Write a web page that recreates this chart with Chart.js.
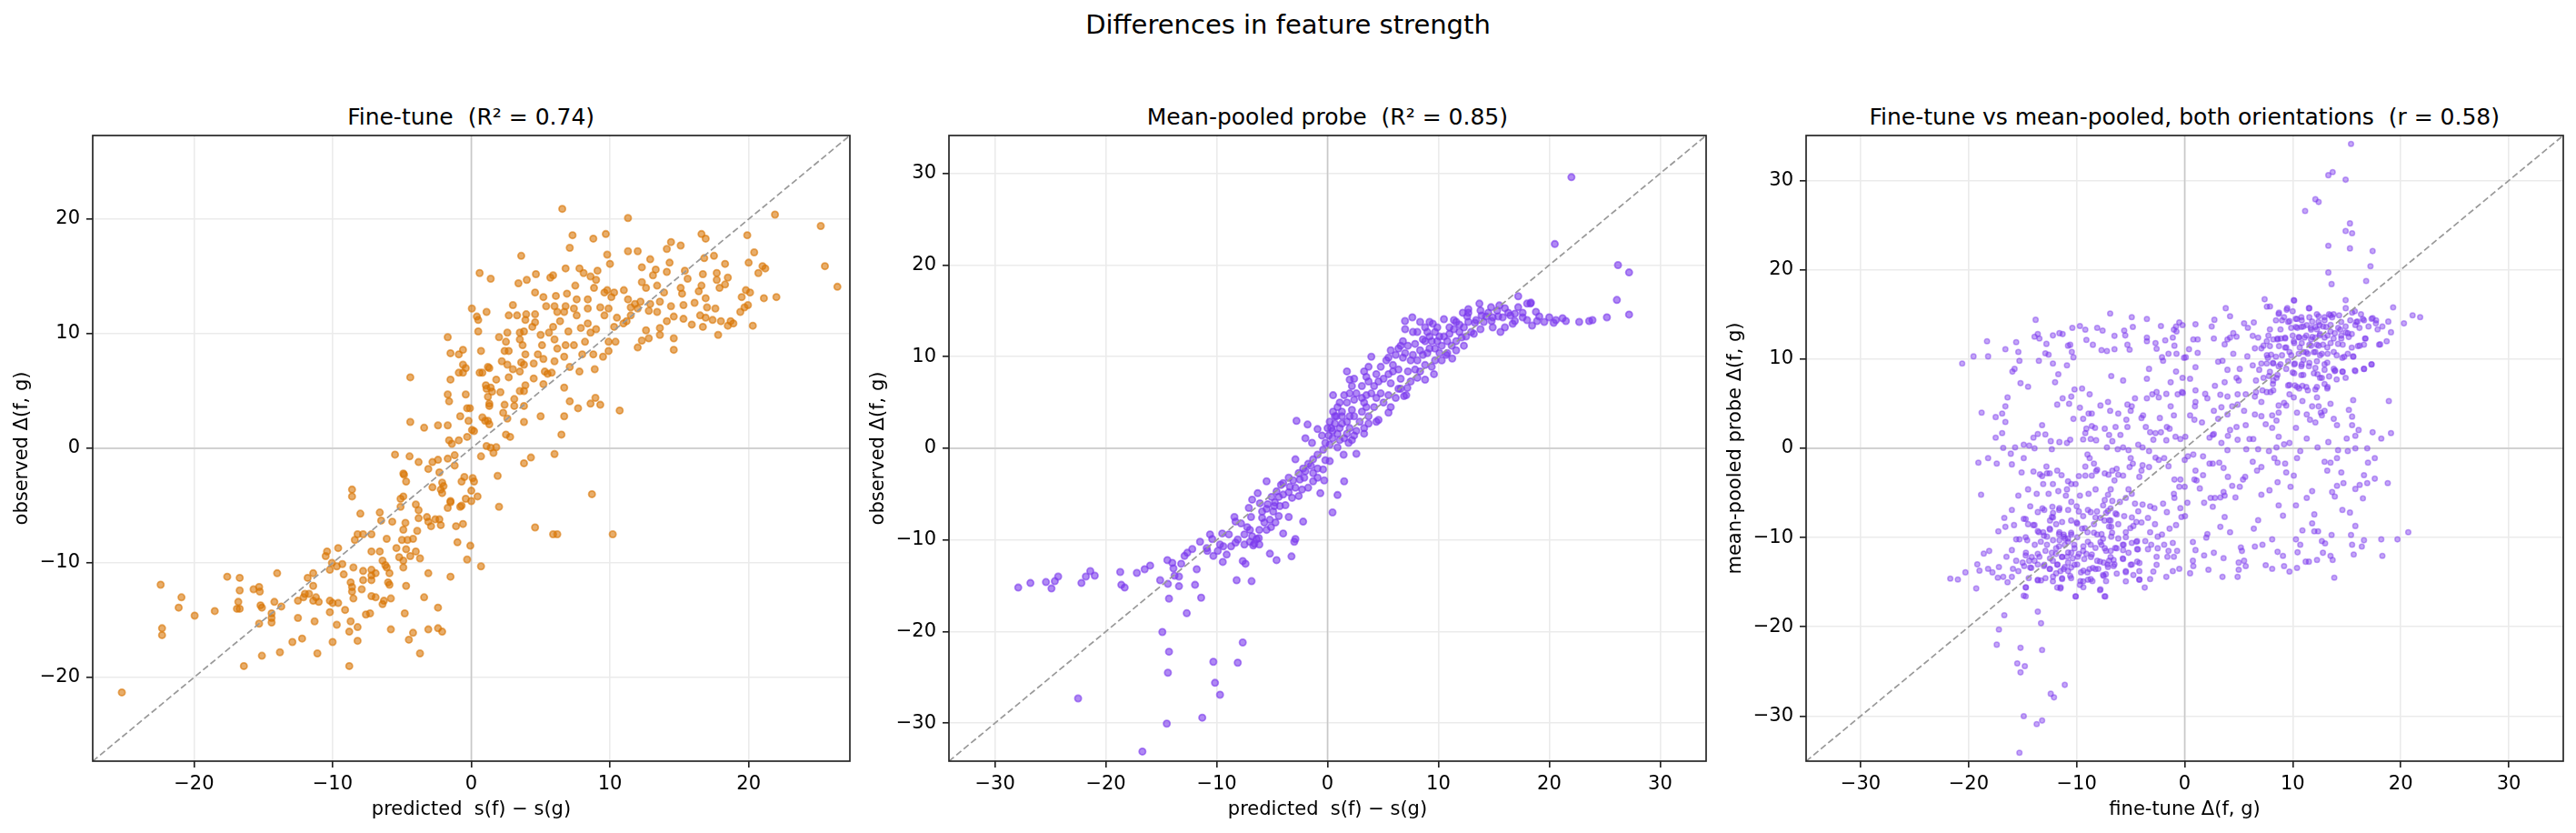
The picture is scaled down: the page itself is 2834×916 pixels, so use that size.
<!DOCTYPE html>
<html>
<head>
<meta charset="utf-8">
<script src="https://cdn.jsdelivr.net/npm/chart.js@4.4.1/dist/chart.umd.min.js"></script>
<style>
  html, body { margin: 0; padding: 0; background: #fff; overflow: hidden; width: 2834px; height: 916px; }
  .wrap { position: relative; width: 2834px; height: 916px; font-family: 'DejaVu Sans', sans-serif; color: #000; }
  .sup { position: absolute; left: 0; width: 2834px; top: 12.8px; font-size: 29px; line-height: 29px; text-align: center; white-space: pre; }
  .ttl { position: absolute; top: 116.2px; width: 833px; font-size: 25px; line-height: 25px; text-align: center; white-space: pre; }
  canvas { position: absolute; top: 0; }
</style>
</head>
<body>
<div class="wrap">
  <div class="sup">Differences in feature strength</div>
  <div class="ttl" id="t0"></div>
  <div class="ttl" id="t1"></div>
  <div class="ttl" id="t2"></div>
  <canvas id="c0" width="943" height="916"></canvas>
  <canvas id="c1" width="943" height="916"></canvas>
  <canvas id="c2" width="943" height="916"></canvas>
</div>
<script>
const titles = ['Fine-tune  (R\u00b2 = 0.74)', 'Mean-pooled probe  (R\u00b2 = 0.85)', 'Fine-tune vs mean-pooled, both orientations  (r = 0.58)'];
const xLabels = ['predicted  s(f) \u2212 s(g)', 'predicted  s(f) \u2212 s(g)', 'fine-tune \u0394(f, g)'];
const yLabels = ['observed \u0394(f, g)', 'observed \u0394(f, g)', 'mean-pooled probe \u0394(f, g)'];
const limits = [27.3, 34.15, 35.05];
const ticksFine = [-20, -10, 0, 10, 20];
const ticksWide = [-30, -20, -10, 0, 10, 20, 30];

// fine-tune: [predicted, observed]
const fineTune = [
[-25.2,-21.3],[-22.4,-11.9],[-22.3,-15.7],[-22.3,-16.3],[-20.9,-13.0],[-21.1,-13.9],[-19.95,-14.6],[-18.5,-14.2],[-17.6,-11.2],[-16.7,-11.3],
[-16.7,-12.4],[-16.8,-13.4],[-16.9,-14.0],[-16.7,-14.0],[-16.4,-19.0],[-15.7,-12.3],[-15.3,-12.1],[-15.25,-12.5],[-15.2,-13.7],[-15.1,-13.9],
[-15.3,-15.3],[-15.1,-18.1],[-14.4,-14.4],[-14.4,-14.8],[-14.4,-15.2],[-14.2,-13.4],[-14.0,-10.9],[-13.7,-13.8],[-13.8,-17.8],[-12.9,-16.9],
[-12.5,-13.3],[-12.5,-14.8],[-12.2,-16.6],[-12.1,-13.0],[-12.0,-12.7],[-11.7,-12.7],[-11.8,-11.3],[-11.4,-10.9],[-11.4,-12.0],[-11.4,-13.3],
[-11.2,-13.0],[-11.0,-13.4],[-11.3,-15.1],[-11.1,-17.9],[-10.4,-9.0],[-10.5,-9.4],[-10.2,-10.6],[-10.05,-10.0],[-10.2,-13.3],[-10.0,-13.5],
[-10.2,-14.3],[-9.6,-13.5],[-9.7,-15.4],[-10.0,-16.9],[-9.6,-8.7],[-9.3,-10.1],[-9.7,-10.3],[-9.2,-11.0],[-9.1,-14.1],[-8.8,-16.0],
[-8.7,-15.1],[-8.8,-19.0],[-8.7,-11.7],[-8.6,-12.1],[-8.6,-12.5],[-8.5,-13.1],[-8.5,-10.4],[-8.2,-15.6],[-8.2,-16.8],[-8.6,-3.6],
[-8.6,-4.2],[-8.0,-5.7],[-8.4,-8.0],[-8.2,-7.5],[-7.8,-7.5],[-7.2,-7.5],[-7.8,-11.5],[-7.8,-10.7],[-7.9,-12.3],[-7.6,-14.5],
[-7.3,-14.4],[-7.2,-9.0],[-7.2,-10.6],[-7.2,-11.1],[-7.2,-11.5],[-6.9,-10.9],[-7.2,-12.9],[-6.9,-13.0],[-6.6,-9.0],[-6.6,-5.6],
[-6.5,-6.3],[-6.4,-9.8],[-6.2,-10.2],[-6.1,-10.4],[-6.1,-7.9],[-5.9,-10.9],[-6.0,-11.7],[-5.9,-11.9],[-6.3,-13.3],[-6.4,-13.6],
[-5.8,-13.1],[-5.8,-15.8],[-5.7,-6.4],[-5.5,-0.55],[-5.4,-8.7],[-5.2,-9.5],[-5.1,-4.4],[-5.1,-5.1],[-4.9,-2.2],[-4.85,-2.3],
[-4.7,-2.9],[-4.9,-4.2],[-4.75,-6.5],[-4.9,-7.1],[-5.0,-8.0],[-4.9,-10.4],[-4.9,-9.8],[-4.7,-12.0],[-4.8,-14.4],[-4.6,-8.0],
[-4.7,-8.8],[-4.4,-9.4],[-4.2,-7.9],[-4.5,-16.7],[-4.2,-16.1],[-4.45,-0.7],[-4.4,2.3],[-4.0,-4.9],[-3.8,-5.4],[-3.8,-1.2],
[-3.8,-6.1],[-4.0,-9.0],[-3.7,-9.6],[-3.9,-7.2],[-3.7,-17.9],[-3.4,-13.0],[-3.4,1.8],[-3.2,-6.0],[-3.1,-6.4],[-3.1,-10.9],
[-3.1,-15.8],[-3.1,-1.8],[-2.9,-6.8],[-2.8,-1.2],[-2.8,-3.4],[-2.6,-6.2],[-2.4,-1.0],[-2.4,2.0],[-2.4,-13.9],[-2.4,-15.7],
[-2.3,-2.1],[-2.3,-6.2],[-2.2,-6.7],[-2.1,-16.0],[-2.1,-3.0],[-2.2,-3.6],[-2.1,-3.9],[-2.0,-3.3],[-1.7,2.0],[-1.6,0.7],
[-1.4,0.4],[-1.7,-0.9],[-1.5,-4.6],[-1.5,-4.7],[-1.7,-5.2],[-1.2,-0.6],[-1.2,-1.5],[-1.1,-6.8],[-1.0,-8.2],[-0.8,-5.1],
[-0.7,-2.9],[-0.9,0.7],[-0.7,-5.0],[-0.6,-6.6],[-0.3,-9.7],[-0.5,-2.5],[-0.4,-4.4],[-1.5,-11.2],[-0.07,-8.5],[-0.3,1.0],
[-0.2,2.4],[0.1,-2.6],[0.2,-2.9],[0.0,-3.7],[0.0,-4.6],[0.45,-4.2],[0.2,1.5],[0.7,-0.7],[0.7,-10.3],[0.05,1.6],
[6.56,20.9],[11.3,20.1],[21.9,20.4],[25.2,19.4],[25.5,15.9],[7.3,18.6],[8.8,18.3],[9.7,18.7],[7.1,17.5],[11.3,17.2],
[12.0,17.2],[9.8,16.9],[10.0,16.1],[3.6,16.8],[0.6,15.3],[1.4,14.8],[3.4,14.4],[4.0,14.7],[4.66,15.2],[5.7,14.9],
[5.9,15.1],[6.8,15.7],[7.8,15.7],[8.1,15.3],[8.6,15.0],[9.1,15.5],[9.0,14.7],[12.9,16.5],[12.3,15.8],[13.3,15.6],
[13.1,15.1],[14.1,15.4],[14.3,16.2],[14.4,18.0],[14.1,17.4],[15.1,17.7],[16.6,18.7],[16.9,18.3],[16.8,16.6],[17.5,16.8],
[18.3,16.1],[15.4,15.5],[16.7,15.2],[17.7,15.3],[18.5,14.9],[19.9,18.6],[20.4,17.1],[20.0,16.2],[21.0,15.9],[21.2,15.7],
[20.7,15.3],[19.8,13.8],[20.1,13.6],[19.5,13.2],[21.1,13.1],[22.0,13.2],[19.95,12.5],[19.7,12.3],[19.4,11.9],[20.3,10.7],
[18.7,11.1],[18.9,10.9],[18.5,10.7],[18.0,11.1],[17.4,11.2],[17.8,9.9],[16.7,10.6],[16.9,11.4],[16.5,11.6],[17.6,12.2],
[17.0,12.3],[17.9,14.0],[18.3,14.3],[17.7,14.7],[16.6,14.2],[16.4,13.7],[16.9,13.1],[16.1,12.7],[15.3,12.5],[15.3,11.3],
[15.9,10.8],[15.2,13.5],[15.1,14.0],[15.6,14.8],[14.6,11.5],[14.1,11.1],[14.4,12.4],[13.6,10.5],[13.6,9.9],[14.6,9.6],
[14.6,8.6],[13.4,14.2],[13.9,13.6],[13.6,12.8],[13.4,11.9],[12.9,12.6],[12.8,12.0],[12.6,14.0],[12.3,14.5],[12.2,12.8],
[12.0,12.2],[12.6,10.3],[12.8,9.6],[12.3,9.4],[12.0,8.8],[11.8,12.6],[11.3,13.0],[11.5,12.3],[11.0,13.8],[11.2,11.1],
[11.5,11.6],[10.97,10.9],[10.5,11.4],[10.3,10.6],[10.4,9.3],[9.9,9.3],[9.9,8.5],[9.5,8.0],[10.1,13.2],[10.3,13.6],
[9.8,13.8],[9.6,13.6],[9.3,12.3],[9.9,12.2],[9.6,11.6],[9.0,10.4],[8.8,8.2],[8.9,6.9],[8.4,12.2],[8.4,10.9],
[8.6,10.1],[8.2,9.3],[8.0,8.2],[8.85,14.0],[8.4,13.0],[7.6,13.0],[7.4,12.2],[7.6,11.6],[7.9,10.5],[7.4,9.0],
[6.8,12.4],[6.9,13.5],[7.5,14.2],[6.7,11.9],[6.4,11.1],[7.0,10.2],[6.8,9.0],[6.7,8.0],[7.1,7.1],[7.8,6.7],
[6.1,13.3],[6.0,12.4],[6.2,11.9],[5.9,10.6],[5.6,10.1],[6.0,9.5],[6.2,8.7],[6.0,7.6],[5.5,6.5],[5.4,12.4],
[5.2,13.2],[4.6,13.6],[4.6,11.7],[4.6,11.0],[5.0,9.9],[4.8,8.2],[4.5,7.4],[5.1,9.0],[5.2,7.8],[5.3,6.7],
[5.8,6.6],[5.2,5.6],[4.5,6.1],[3.96,11.7],[3.9,11.2],[4.4,10.6],[3.8,10.2],[3.5,10.1],[3.5,9.5],[3.7,9.0],
[3.9,8.2],[3.6,7.5],[3.8,7.3],[3.5,6.7],[3.9,5.5],[3.8,5.0],[3.3,11.6],[3.0,12.5],[2.7,11.6],[2.6,10.1],
[2.5,9.3],[2.7,8.5],[2.2,7.6],[2.6,7.3],[3.0,6.9],[2.7,6.2],[3.1,4.3],[3.5,5.0],[3.8,3.7],[3.1,3.7],
[2.4,3.8],[2.3,3.1],[2.6,2.6],[2.5,1.2],[2.8,1.0],[2.0,9.7],[2.4,8.5],[1.05,5.5],[1.1,5.2],[1.2,4.5],
[1.3,3.9],[1.4,5.3],[1.5,4.95],[1.8,6.0],[2.1,4.9],[1.3,3.7],[1.2,2.4],[1.3,2.1],[0.8,2.7],[1.0,2.4],
[0.6,6.6],[0.8,6.6],[1.2,7.1],[1.3,7.0],[0.04,12.2],[0.4,11.5],[0.5,11.2],[0.5,10.2],[1.1,11.9],[0.7,8.5],
[-0.6,8.6],[-0.9,8.2],[-1.5,8.3],[-1.7,9.7],[-1.5,6.0],[-0.6,7.3],[-0.4,7.0],[-0.9,6.6],[-0.6,6.6],[-1.7,4.7],
[-1.6,4.1],[-0.4,4.7],[-0.3,3.5],[-0.1,3.5],[-0.8,2.8],[-4.4,6.2],[1.1,0.2],[1.4,0.05],[1.8,0.1],[1.6,-0.4],
[1.9,-2.4],[2.0,-5.1],[3.8,-1.3],[4.3,-0.8],[6.0,-0.5],[6.5,1.2],[6.7,2.8],[5.0,2.8],[3.8,2.3],[6.7,5.3],
[7.7,3.5],[7.1,4.1],[8.6,3.9],[8.95,4.4],[9.3,3.8],[10.7,3.3],[8.7,-4.0],[4.6,-6.9],[5.9,-7.5],[6.2,-7.5],
[10.2,-7.5],[26.4,14.1]
];

// mean-pooled probe: [predicted, observed]
const meanPooled = [
[-27.9,-15.2],[-26.8,-14.7],[-25.4,-14.6],[-24.9,-15.3],[-24.6,-14.5],[-24.3,-14.0],[-22.5,-27.3],[-22.2,-14.7],[-21.8,-14.0],[-21.4,-13.4],
[-21.0,-13.9],[-18.7,-13.5],[-18.6,-14.9],[-18.3,-15.2],[-17.2,-13.6],[-16.7,-33.1],[-16.5,-13.2],[-16.0,-12.8],[-15.1,-14.4],[-14.9,-20.05],
[-14.45,-12.2],[-14.4,-14.8],[-14.3,-16.4],[-14.3,-22.2],[-14.4,-24.5],[-14.5,-30.05],[-14.0,-12.5],[-13.9,-13.1],[-13.8,-13.9],[-13.4,-15.05],
[-13.4,-14.0],[-13.2,-12.6],[-12.9,-11.75],[-12.7,-18.0],[-12.65,-11.4],[-12.2,-11.0],[-11.95,-14.9],[-11.8,-13.2],[-11.4,-16.3],[-11.3,-29.4],
[-11.5,-10.2],[-10.9,-10.9],[-10.85,-11.2],[-10.6,-9.4],[-10.4,-9.9],[-10.3,-23.3],[-10.15,-25.6],[-9.7,-26.9],[-9.5,-9.3],[-9.45,-12.4],
[-9.4,-10.7],[-9.1,-11.6],[-8.9,-9.4],[-8.7,-10.7],[-8.4,-7.5],[-8.3,-8.0],[-8.3,-10.3],[-8.2,-14.4],[-8.1,-23.4],[-7.65,-21.2],
[-7.65,-12.3],[-7.4,-12.6],[-7.8,-8.2],[-7.25,-8.6],[-7.1,-6.5],[-6.9,-7.5],[-6.85,-14.5],[-6.8,-9.6],[-6.7,-10.6],[-6.6,-10.4],
[-6.4,-9.9],[-6.3,-4.9],[-6.8,-5.6],[-6.2,-9.8],[-6.1,-6.0],[-5.9,-6.9],[-5.5,-3.6],[-5.5,-8.9],[-5.4,-6.1],[-5.2,-11.5],
[-5.2,-7.8],[-5.1,-8.6],[-4.9,-6.9],[-4.75,-5.9],[-4.7,-8.1],[-4.6,-12.2],[-4.6,-4.7],[-4.3,-6.3],[-4.2,-4.0],[-4.0,-9.3],
[-3.8,-6.2],[-3.5,-7.5],[-3.4,-4.2],[-3.25,-11.8],[-3.0,-10.2],[-2.9,-9.9],[-2.8,3.0],[-3.2,-5.4],[-2.6,-5.2],[-2.5,-3.4],
[-2.2,-8.0],[-2.3,-4.5],[-2.1,-3.2],[-1.8,2.6],[-2.0,1.1],[-1.5,-1.9],[-1.4,0.6],[-1.3,-3.6],[-0.9,2.1],[-0.9,-2.2],
[-0.65,-4.9],[-0.5,1.4],[-0.4,-2.3],[-0.3,-3.5],[-0.2,-1.3],[0.2,-1.4],[0.45,-7.0],[0.5,5.8],[0.9,-5.1],[1.5,-3.6],
[1.45,-0.7],[2.6,-0.6],[1.9,0.6],[1.75,8.4],[2.0,7.5],[3.95,10.0],[0.5,4.0],[5.5,3.9],[4.6,3.1],[8.8,7.5],
[9.6,8.1],[6.9,5.7],[7.2,6.6],[7.1,5.8],[7.65,14.3],[6.99,13.9],[7.0,13.0],[11.25,9.8],[10.7,10.2],[13.7,15.8],
[12.7,15.2],[17.2,16.6],[15.6,12.7],[18.3,15.8],[18.8,14.9],[20.0,14.3],[20.4,13.7],[20.6,14.0],[21.2,14.2],[21.5,13.9],
[20.5,22.3],[22.0,29.6],[22.7,13.8],[23.6,13.9],[23.9,14.0],[25.2,14.3],[26.1,16.2],[26.2,20.0],[27.2,19.2],[27.2,14.6],
[19.55,13.8],[18.45,13.4],[18.0,14.0],[16.9,13.9],[17.6,14.8],[16.3,14.8],[15.3,15.05],[15.5,15.6],[14.5,14.8],[14.8,13.9],
[13.9,14.5],[13.3,13.7],[12.6,14.4],[11.9,13.5],[12.96,12.7],[12.1,12.1],[11.6,11.7],[11.2,11.2],[10.5,14.1],[9.5,13.6],
[8.8,13.2],[8.1,12.7],[9.2,12.2],[9.9,11.7],[10.5,12.2],[8.8,11.7],[7.9,11.4],[7.25,11.2],[6.8,11.7],[8.35,10.7],
[9.2,10.9],[10.1,10.4],[9.7,9.6],[8.8,9.1],[7.5,9.6],[6.8,9.9],[6.15,10.2],[5.9,9.1],[6.4,8.6],[7.25,8.4],
[7.9,8.6],[5.5,9.9],[4.8,8.9],[4.4,8.1],[5.05,7.6],[5.7,7.1],[6.4,6.5],[3.7,8.9],[3.5,7.8],[4.2,6.8],
[3.1,6.8],[2.6,6.0],[3.5,5.8],[4.4,5.5],[5.05,5.0],[5.7,4.5],[4.2,4.5],[3.3,5.0],[2.4,5.3],[1.75,5.0],
[1.5,5.8],[2.2,4.2],[3.1,4.0],[3.7,3.5],[4.4,2.9],[2.9,2.9],[2.0,3.5],[1.3,4.0],[0.9,4.5],[0.8,3.5],
[0.66,2.7],[1.3,2.7],[2.0,2.2],[2.6,1.9],[3.3,1.6],[0.2,2.9],[0.35,2.2],[0.9,1.6],[1.5,1.1],[2.2,0.9],
[0.45,1.1],[0.2,0.4],[0.9,0.1],[-0.2,0.6],[-0.4,-0.15],[-0.9,-0.7],[-1.3,-1.2],[-1.75,-1.7],[-2.0,-2.5],[-2.2,-2.2],
[-2.6,-2.7],[-2.9,-1.2],[-3.1,-3.5],[-3.5,-3.2],[-4.0,-3.8],[-4.4,-5.3],[-4.0,-5.05],[-3.5,-4.8],[-2.9,-4.3],[-1.75,-4.3],
[-1.3,-2.7],[-0.9,-3.2],[-4.4,-7.4],[-4.8,-6.3],[-5.05,-5.3],[-5.5,-6.6],[-5.9,-7.6],[-5.7,-8.1],[-6.15,-8.9],[-7.0,-8.9],
[-7.5,-9.4],[-7.0,-10.2],[-6.15,-10.5],[-7.5,-10.5],[-8.1,-9.95],[-9.7,-10.5],[-9.9,-11.2],[-10.3,-11.75],
[6.6,11.2],[7.0,10.4],[7.7,10.2],[8.1,9.6],[8.6,10.2],[9.0,10.4],[9.7,10.9],[10.3,11.2],[10.8,11.7],[11.0,12.5],
[11.4,13.0],[12.3,13.2],[12.7,13.8],[13.4,14.0],[14.1,13.8],[14.3,14.4],[14.9,14.3],[15.4,14.4],[15.8,14.3],[16.5,14.5],
[16.9,14.7],[17.6,14.3],[18.9,13.9],[19.1,14.4],[16.7,13.6],[16.0,13.2],[14.9,13.2],[13.8,13.0],[13.2,12.5],[12.5,12.2],
[11.9,12.7],[12.3,11.2],[11.6,10.7],[10.8,10.4],[10.3,9.6],[9.4,8.9],[8.35,8.4],[7.7,12.7],[8.35,13.8],[9.2,13.8],
[9.9,13.2],[9.7,12.7],[9.0,12.7],[8.6,11.9],[9.4,11.7],[10.1,12.2],[11.0,13.2],[11.6,13.8],[12.7,14.8],[12.2,14.8],
[11.4,14.0],[13.8,15.05],[14.75,15.4],[16.0,15.3],[17.2,15.4],[18.0,15.8],[18.35,15.9],[6.4,10.9],[5.7,10.7],[5.3,9.6],
[5.9,8.4],[6.6,7.6],[7.5,7.3],[8.1,7.7],[5.5,8.1],[4.6,7.3],[3.7,7.3],[3.3,8.4],[2.4,7.6],[2.2,6.8],
[3.95,6.0],[4.8,6.0],[5.5,5.8],[6.15,5.5],[6.6,6.5],[3.1,5.5],[2.0,6.0],[1.1,5.0],[1.3,3.5],[1.75,2.9],
[2.4,3.5],[3.5,4.5],[3.7,2.7],[3.3,2.2],[2.4,1.4],[1.75,1.6],[1.1,0.9],[0.45,1.9],[0.1,1.4],[0.0,2.2],
[0.66,3.5],[1.1,2.2]
];

// both orientations: [fine-tune delta, mean-pooled delta]
const bothOrient = [
[-20.6,9.5],[-19.55,10.3],[-18.3,12.0],[-18.2,10.3],[-18.8,4.0],[-17.5,3.5],[-19.1,-1.6],[-18.2,-1.1],[-18.85,-5.2],[-17.4,-1.7],
[-17.5,1.2],[-16.9,1.7],[-16.9,3.9],[-16.6,4.7],[-16.4,5.7],[-16.8,0.05],[-16.6,2.96],[-16.1,-0.6],[-16.0,-1.8],[-15.7,0.1],
[-15.6,11.9],[-15.4,10.8],[-15.3,9.8],[-16.6,11.1],[-15.95,8.6],[-15.75,8.9],[-15.2,7.3],[-14.5,6.9],[-13.8,14.4],[-13.9,12.5],
[-13.6,12.8],[-13.45,12.3],[-12.8,11.7],[-13.5,9.8],[-12.9,10.65],[-12.6,10.5],[-12.2,9.5],[-11.7,8.3],[-12.0,7.4],[-12.2,12.65],
[-11.6,12.9],[-11.3,12.8],[-10.9,9.3],[-10.8,11.5],[-10.4,13.5],[-10.6,11.6],[-10.45,10.8],[-10.3,10.2],[-9.7,13.7],[-9.2,13.3],
[-9.1,12.15],[-8.5,11.6],[-8.1,13.5],[-7.6,13.2],[-7.7,11.0],[-7.2,10.9],[-6.9,15.1],[-6.5,12.6],[-6.5,11.1],[-6.8,8.1],
[-5.6,13.2],[-5.5,12.65],[-4.9,14.7],[-4.8,13.6],[-5.3,11.6],[-5.1,11.05],[-3.5,14.5],[-3.5,12.4],[-2.7,11.8],[-3.3,8.9],
[-3.5,7.8],[-2.2,13.7],[-1.8,12.1],[-1.0,13.3],[-0.8,13.65],[-0.76,10.6],[-2.0,9.8],[-0.95,11.5],[-0.2,13.8],[-0.06,10.15],
[-0.25,6.3],[-3.5,5.6],[-3.0,6.05],[-2.6,6.3],[-2.4,5.7],[-1.7,6.1],[-1.3,4.7],[-1.0,3.7],[-2.3,3.4],[-3.2,1.8],
[-2.7,1.7],[-2.2,1.8],[-1.7,0.9],[-0.85,1.3],[-0.4,1.05],[-4.6,5.6],[-5.0,4.2],[-5.4,3.2],[-3.6,2.4],[-4.0,3.4],
[-7.1,5.2],[-7.8,4.8],[-8.6,3.9],[-8.6,2.5],[-9.2,1.7],[-9.4,1.0],[-10.3,3.3],[-10.2,6.6],[-11.3,5.6],[-11.8,4.9],
[-10.9,0.6],[-10.6,0.96],[-9.7,4.55],[-9.4,3.3],[-9.1,2.2],[-8.7,1.05],[-8.2,0.9],[-7.2,0.1],[-6.7,0.8],[-6.2,-0.1],
[-5.7,0.1],[-6.4,2.4],[-7.0,1.5],[-7.4,2.2],[-8.3,2.3],[-8.9,3.9],[-13.2,2.6],[-13.6,1.6],[-12.9,1.55],[-14.0,1.2],
[-14.9,0.4],[-14.4,0.3],[-13.9,0.0],[-12.3,-0.1],[-11.6,0.7],[-12.4,0.8],[-14.9,-1.1],[-15.1,-2.7],[-14.0,-2.6],[-13.2,-3.1],
[-13.4,-2.9],[-12.8,-2.05],[-12.75,-2.8],[-12.5,-2.8],[-11.8,-2.5],[-11.4,-3.0],[-10.8,-3.7],[-10.5,-4.0],[-10.1,-4.0],[-9.8,-3.1],
[-9.2,-3.05],[-8.6,-3.05],[-8.1,-2.4],[-8.4,-1.7],[-8.8,-1.1],[-9.2,-2.05],[-9.0,-0.7],[-8.2,-2.55],[-7.4,-2.8],[-7.05,-2.95],
[-6.7,-2.5],[-6.3,-2.3],[-6.15,-2.95],[-6.5,-3.6],[-5.7,-3.05],[-5.1,-2.1],[-5.0,-1.1],[-4.8,-1.7],[-4.2,-3.2],[-4.0,-2.5],
[-3.9,-1.9],[-3.3,-2.1],[-2.7,-1.05],[-2.4,-1.3],[-1.9,-1.1],[-1.5,-2.0],[-0.95,-3.5],[-0.4,-3.5],[-0.5,-4.3],[-1.0,-5.1],
[-0.95,-5.55],[-0.4,-6.7],[-0.3,-7.7],[-0.8,-8.6],[-1.1,-10.6],[-1.0,-12.15],[-1.6,-12.15],[-1.1,-13.75],[-2.6,-12.15],[-2.6,-13.05],
[-2.9,-13.8],[-3.7,-15.6],[-4.2,-14.7],[-3.4,-11.3],[-3.65,-10.4],[-3.2,-9.4],[-4.4,-10.4],[-4.4,-11.3],[-4.4,-12.7],[-5.0,-13.05],
[-5.45,-13.75],[-5.7,-12.4],[-6.3,-11.2],[-5.65,-10.8],[-6.15,-10.1],[-6.8,-9.9],[-6.8,-8.8],[-6.85,-11.5],[-7.0,-12.6],[-6.5,-13.0],
[-7.3,-14.1],[-7.35,-16.6],[-7.8,-15.8],[-7.5,-14.3],[-8.0,-13.5],[-8.5,-13.4],[-8.7,-14.65],[-9.4,-14.9],[-9.7,-15.3],[-10.1,-16.6],
[-9.0,-13.9],[-9.6,-13.9],[-10.6,-14.3],[-10.2,-13.05],[-10.8,-12.8],[-10.9,-12.15],[-10.5,-11.7],[-10.2,-11.2],[-11.1,-10.8],[-10.8,-10.1],
[-11.2,-9.65],[-11.6,-10.3],[-11.9,-11.2],[-12.3,-11.7],[-12.2,-12.6],[-11.8,-13.05],[-11.5,-13.75],[-11.35,-14.65],[-11.9,-14.0],[-12.5,-13.5],
[-13.0,-13.05],[-13.45,-12.15],[-13.9,-12.6],[-14.2,-13.4],[-14.4,-12.6],[-14.7,-11.7],[-15.0,-12.8],[-15.4,-13.75],[-15.6,-12.6],[-15.3,-10.2],
[-15.6,-10.2],[-16.0,-11.4],[-16.5,-12.15],[-15.9,-13.5],[-16.0,-14.4],[-16.4,-15.0],[-16.8,-14.4],[-17.3,-14.5],[-17.2,-13.3],[-17.8,-13.9],
[-18.2,-13.5],[-18.1,-11.5],[-18.6,-11.8],[-19.2,-13.0],[-19.0,-13.7],[-20.3,-13.9],[-21.0,-14.7],[-21.7,-14.6],[-19.3,-15.7],[-17.25,-9.3],
[-16.6,-8.8],[-15.8,-8.6],[-14.9,-7.9],[-14.5,-8.5],[-13.9,-8.6],[-13.5,-9.4],[-13.1,-9.4],[-12.75,-9.9],[-12.3,-7.7],[-12.5,-9.0],
[-11.9,-8.5],[-11.6,-9.4],[-11.2,-9.9],[-10.5,-9.65],[-10.0,-8.3],[-9.5,-9.0],[-9.0,-9.4],[-8.4,-8.5],[-8.1,-9.65],[-7.8,-10.5],
[-7.4,-11.2],[-8.7,-10.8],[-9.4,-11.5],[-9.9,-12.15],[-9.3,-12.4],[-8.6,-11.9],[-8.1,-12.6],[-7.5,-12.8],[-7.1,-13.3],[-11.35,-12.15],
[-10.8,-13.75],[-11.1,-13.3],[-12.2,-14.9],[-11.8,-15.6],[-11.5,-15.7],[-13.6,-14.8],[-13.3,-14.8],[-14.9,-16.5],[-14.7,-15.6],[-13.6,-18.3],
[-13.3,-19.6],[-16.7,-18.7],[-17.2,-20.3],[-17.4,-22.0],[-15.2,-22.35],[-13.2,-22.6],[-15.5,-24.1],[-14.8,-24.4],[-15.2,-25.1],[-12.4,-27.5],
[-12.1,-27.9],[-11.1,-26.5],[-14.9,-30.0],[-13.7,-30.9],[-13.2,-30.5],[-15.3,-34.1],
[-3.5,12.0],[-2.1,10.2],[-1.5,10.6],[-2.6,11.15],[-0.5,14.1],[-0.76,13.1],[-1.1,12.4],[-5.7,7.6],[-5.3,4.9],[-4.9,4.7],
[-6.9,4.2],[-6.15,3.9],[-3.85,3.7],[-5.3,2.4],[-5.95,1.5],[-5.2,-0.2],[-4.3,0.4],[-3.9,0.1],[-3.3,-0.3],[-2.9,0.96],
[-1.4,2.2],[-1.65,2.4],[-0.65,6.05],[-1.3,7.4],[-0.8,8.6],[-0.2,7.9],[-8.8,6.05],[-9.5,6.7],[-10.5,5.8],[-10.7,5.0],
[-7.1,-5.2],[-7.4,-5.8],[-7.55,-6.4],[-6.7,-5.9],[-7.1,-7.0],[-6.4,-7.3],[-6.0,-6.0],[-5.45,-5.55],[-5.2,-4.6],[-4.9,-5.1],
[-4.6,-6.2],[-4.3,-7.05],[-3.9,-6.3],[-3.2,-6.5],[-2.8,-6.7],[-3.4,-7.8],[-2.0,-6.2],[-1.65,-7.15],[-2.75,-8.5],[-2.1,-9.65],
[-1.4,-9.0],[-2.5,-9.9],[-3.1,-10.8],[-2.5,-11.2],[-1.9,-10.8],[-1.5,-11.5],[-0.7,-11.5],[-0.5,-13.5],[-1.7,-14.4],[-3.2,-14.65],
[-4.2,-13.75],[-4.75,-14.2],[-5.45,-14.9],[-5.7,-11.4],[-5.2,-11.7],[-4.9,-10.6],[-5.45,-9.4],[-4.75,-8.7],[-4.0,-8.3],[-6.85,-4.6],
[-8.25,-4.6],[-8.9,-5.1],[-9.7,-5.3],[-10.5,-6.0],[-11.0,-5.3],[-11.6,-6.7],[-12.25,-6.55],[-13.0,-6.9],[-13.6,-7.15],[-14.3,-6.5],
[-15.4,-5.3],[-16.0,-6.9],[-16.7,-7.8],[-14.5,-4.6],[-13.7,-5.1],[-13.1,-4.0],[-12.6,-5.1],[-12.2,-4.0],[-11.7,-4.8],[-10.9,-4.6],
[-10.0,-6.5],[-9.4,-7.6],[-8.7,-7.15],[-7.8,-7.8],[-7.0,-8.05],[-6.15,-8.5],[-5.6,-7.6],
[-13.17,-6.73],[-12.19,-7.24],[-11.63,-6.9],[-10.79,-6.9],[-9.8,-7.07],[-8.96,-6.9],[-8.12,-7.07],[-7.28,-7.24],[-6.29,-7.41],[-6.86,-6.73],
[-14.72,-7.92],[-14.02,-8.6],[-12.47,-8.09],[-12.19,-7.75],[-11.35,-8.26],[-10.51,-8.09],[-9.95,-8.43],[-8.26,-7.75],[-7.42,-8.09],[-6.86,-8.09],
[-4.89,-7.75],[-4.47,-8.26],[-5.03,-8.94],[-14.72,-9.96],[-13.6,-9.28],[-13.03,-9.79],[-12.47,-9.11],[-11.63,-9.62],[-11.07,-10.13],[-10.51,-9.45],
[-9.95,-9.96],[-9.24,-8.94],[-8.4,-9.45],[-7.7,-9.62],[-7.0,-8.77],[-7.56,-10.13],[-6.72,-9.45],[-5.45,-9.96],[-5.73,-10.81],[-14.58,-10.3],
[-13.88,-10.81],[-13.32,-10.47],[-12.75,-10.81],[-12.19,-10.3],[-11.63,-10.98],[-10.79,-10.47],[-10.23,-10.81],[-9.38,-10.98],[-8.96,-10.47],[-8.26,-11.15],
[-7.7,-10.81],[-7.28,-11.49],[-6.43,-11.15],[-4.47,-10.47],[-4.33,-11.32],[-14.72,-12.0],[-14.16,-12.17],[-13.6,-11.83],[-12.89,-11.49],[-12.47,-12.34],
[-11.91,-11.83],[-11.35,-12.17],[-10.79,-11.66],[-10.37,-12.34],[-9.8,-11.83],[-9.1,-11.83],[-8.68,-12.17],[-7.84,-12.68],[-6.86,-12.17],[-6.58,-12.51],
[-5.73,-12.34],[-4.89,-13.02],[-4.19,-12.85],[-14.86,-13.19],[-14.3,-13.36],[-13.6,-13.02],[-13.03,-13.19],[-12.47,-13.53],[-11.77,-13.02],[-11.21,-13.53],
[-10.51,-13.36],[-9.95,-13.02],[-9.38,-13.7],[-8.82,-13.53],[-8.26,-13.53],[-7.14,-13.02],[-6.58,-13.19],[-6.29,-14.04],[-5.45,-13.87],[-14.44,-14.55],
[-13.6,-14.72],[-12.89,-14.55],[-12.19,-14.38],[-11.35,-14.55],[-10.51,-14.55],[-9.66,-14.88],[-8.96,-14.72],[-8.54,-14.88],[-7.56,-14.2],[-7.28,-14.88],
[-4.19,-14.72],[-14.72,-15.56],[-11.49,-15.56],[-9.38,-15.56],[-7.84,-15.9],[-7.42,-16.58],[-10.09,-16.58],[-14.72,-16.58],
[15.4,34.1],[13.3,30.6],[13.7,30.95],[14.9,30.1],[12.1,27.9],[12.4,27.6],[11.15,26.6],[15.3,25.2],[14.9,24.35],[15.5,24.1],
[13.3,22.7],[15.3,22.4],[17.4,22.1],[17.2,20.4],[13.3,19.7],[13.6,18.4],[16.8,18.75],[19.3,15.8],[21.1,14.9],[21.8,14.7],
[20.3,14.0],[7.4,16.7],[7.9,15.9],[3.8,15.7],[4.2,14.8],[2.75,14.4],[1.0,13.9],[2.5,13.65],[2.7,12.3],[0.8,12.2],
[1.2,12.2],[0.4,11.1],[1.2,10.7],[0.1,10.2],[1.0,9.1],[0.5,7.8],[-0.17,6.2],[1.9,6.1],[2.1,5.6],[1.0,6.5],
[1.0,5.2],[0.95,4.7],[0.5,3.7],[0.9,3.2],[1.6,2.9],[0.06,1.3],[2.3,1.2],[2.6,1.5],[2.7,4.2],[2.8,7.0],
[3.7,7.4],[3.3,6.0],[3.96,5.8],[4.8,7.9],[5.0,7.6],[3.1,9.7],[3.5,9.8],[4.5,10.6],[5.1,8.9],[5.8,10.3],
[6.3,12.6],[6.8,12.4],[6.5,11.2],[7.1,11.2],[5.5,14.0],[5.85,13.5],[6.4,14.1],[4.5,12.9],[4.2,12.4],[3.96,12.2],
[4.8,12.5],[3.7,11.65],[4.9,6.05],[5.65,6.05],[6.5,5.8],[6.6,6.3],[7.2,6.5],[7.6,6.3],[7.95,6.3],[8.2,6.5],
[7.1,5.2],[6.6,7.6],[6.9,8.8],[7.3,7.9],[7.8,8.1],[8.2,7.6],[8.5,7.9],[7.1,9.5],[7.6,9.5],[8.2,9.5],
[8.7,9.2],[8.0,10.5],[7.3,11.5],[7.6,12.0],[8.2,12.2],[8.6,12.2],[8.9,12.3],[9.3,12.4],[9.4,11.3],[9.7,10.8],
[9.4,8.9],[10.0,8.5],[10.8,8.2],[9.7,7.1],[10.2,7.05],[10.6,6.7],[10.9,7.0],[11.4,6.5],[12.1,6.6],[12.25,5.7],
[9.7,6.05],[9.2,5.1],[8.7,4.8],[9.4,4.8],[10.1,5.7],[10.9,5.3],[11.8,4.7],[12.4,4.7],[12.6,4.0],[12.95,4.2],
[13.5,5.0],[13.2,6.7],[12.7,7.9],[12.3,8.3],[12.95,8.8],[13.2,9.6],[13.8,8.9],[13.9,8.65],[14.6,8.6],[14.9,7.9],
[15.8,8.65],[16.6,8.9],[17.3,9.4],[15.8,13.8],[16.0,14.2],[16.5,14.5],[17.4,14.6],[17.7,14.0],[18.3,13.65],[18.85,14.2],
[19.1,13.0],[18.7,12.0],[18.1,11.65],[16.7,12.3],[16.2,11.5],[15.6,10.3],[15.1,10.6],[14.6,10.15],[14.2,11.7],[14.5,12.3],
[15.1,12.9],[14.9,13.65],[15.5,15.2],[14.9,16.6],[14.3,14.9],[13.5,14.9],[12.95,14.7],[12.4,14.8],[11.8,14.2],[11.5,15.7],
[10.1,16.6],[9.5,15.7],[8.7,15.05],[9.2,14.7],[9.7,14.25],[10.4,14.5],[10.8,14.7],[10.3,13.6],[10.8,13.6],[11.3,13.8],
[11.7,13.3],[12.1,13.6],[12.5,13.8],[13.1,13.6],[13.5,13.1],[13.9,12.9],[14.4,13.3],[12.95,12.4],[12.5,12.65],[12.1,12.4],
[11.7,12.2],[11.1,12.4],[10.6,12.4],[10.1,12.0],[10.65,11.3],[11.0,10.8],[11.4,10.6],[12.1,10.8],[12.7,10.6],[13.2,11.3],
[13.8,10.8],[11.7,11.5],[12.4,11.5],[11.0,9.9],[11.5,9.2],[12.1,9.0],[10.8,9.2],[10.2,9.5],[3.96,8.8],[6.3,9.3],
[7.7,10.15],
[10.14,16.55],[11.54,15.7],[12.24,15.02],[13.37,15.02],[13.79,15.02],[14.91,15.7],[15.75,15.36],[16.32,15.02],[7.61,15.87],[8.73,15.19],
[9.44,15.53],[10.0,15.36],[8.45,14.34],[9.01,14.34],[9.58,14.17],[10.28,14.51],[10.84,14.34],[11.54,14.68],[12.38,14.17],[12.95,14.34],
[13.65,14.68],[14.49,14.17],[15.33,14.34],[15.89,14.17],[16.6,14.34],[17.3,14.51],[17.72,14.34],[7.89,13.32],[8.87,13.32],[9.86,13.49],
[10.42,13.49],[10.98,13.66],[11.68,13.49],[12.24,13.32],[12.81,13.66],[13.51,13.83],[14.21,13.49],[14.91,12.98],[15.47,12.81],[16.18,13.49],
[17.02,13.66],[17.86,13.32],[7.75,12.64],[8.59,12.3],[9.3,12.3],[10.0,12.64],[10.56,12.47],[11.26,12.64],[11.82,12.47],[12.53,12.81],
[13.23,12.64],[13.79,12.3],[14.49,12.64],[15.19,12.47],[16.74,12.3],[7.89,11.45],[8.73,11.45],[9.3,11.28],[10.14,11.79],[10.84,11.79],
[11.54,11.62],[12.24,11.62],[12.81,11.62],[13.51,11.79],[14.63,11.62],[15.47,11.28],[16.04,11.45],[16.6,11.62],[18.0,11.62],[7.61,10.43],
[8.45,10.26],[9.01,10.43],[9.86,10.43],[10.56,10.6],[11.26,10.77],[11.96,10.77],[12.53,10.43],[13.23,10.6],[14.07,10.43],[14.77,10.26],
[15.61,10.26],[8.17,9.58],[8.87,9.41],[9.58,9.75],[10.14,9.41],[10.84,9.41],[11.54,9.58],[12.24,9.75],[12.95,9.41],[13.93,8.74],
[14.63,8.57],[15.75,8.74],[16.6,8.9],[17.3,9.41],[7.89,8.57],[8.59,8.23],[10.14,8.4],[10.98,8.23],[11.96,8.4],[12.53,7.89],
[13.37,8.06],[14.07,7.72],[8.17,7.21],[9.58,7.04],[10.42,6.87],[11.26,6.87],[12.24,6.87],[12.95,7.21],[13.23,6.87],
[0.0,-1.3],[0.3,-0.9],[0.8,-0.7],[1.7,-0.9],[1.0,-2.5],[0.0,-4.3],[0.25,-6.1],[0.9,-3.5],[1.1,-3.6],[1.4,-4.5],
[1.7,-3.0],[2.3,-1.7],[2.6,-1.7],[3.2,-1.6],[3.6,-2.2],[4.0,-3.2],[3.6,-4.9],[3.7,-5.3],[3.3,-5.5],[2.8,-5.55],
[2.4,-5.55],[2.6,-6.55],[1.8,-6.1],[4.4,-4.2],[4.7,-5.5],[5.1,-4.3],[5.4,-3.5],[5.6,-3.2],[6.3,-1.5],[6.7,-2.5],
[7.1,-2.1],[7.1,-5.2],[7.85,-4.7],[8.3,-1.1],[8.6,-1.6],[9.3,-1.7],[9.4,-2.7],[10.1,-3.05],[9.8,-4.3],[8.6,-3.8],
[8.7,-6.4],[9.1,-7.55],[10.3,-6.4],[6.8,-8.05],[3.7,-7.7],[3.3,-8.8],[2.1,-9.6],[2.0,-10.0],[0.76,-10.5],[1.0,-11.4],
[1.8,-12.0],[2.7,-11.7],[3.6,-12.3],[5.2,-11.1],[5.3,-11.5],[5.0,-12.8],[5.5,-12.6],[5.65,-13.2],[5.0,-13.6],[4.9,-14.4],
[3.5,-14.4],[2.2,-13.6],[0.76,-12.6],[0.8,-13.2],[0.5,-14.0],[6.5,-11.0],[7.2,-10.8],[7.5,-13.1],[8.1,-13.5],[8.1,-10.2],
[8.6,-11.6],[9.1,-12.05],[9.2,-13.2],[9.7,-13.8],[10.4,-13.4],[10.45,-11.65],[10.3,-10.2],[10.7,-10.8],[10.9,-9.2],[11.3,-5.55],
[11.8,-4.8],[12.0,-7.4],[11.8,-8.4],[12.0,-9.3],[12.35,-9.3],[12.7,-10.4],[13.0,-10.65],[12.8,-11.7],[12.25,-12.5],[11.5,-12.7],
[11.2,-12.7],[13.6,-9.7],[13.5,-12.05],[13.7,-12.5],[13.85,-14.5],[14.6,-6.9],[15.3,-7.2],[15.8,-8.7],[15.4,-9.7],[15.5,-10.8],
[15.65,-11.9],[16.4,-11.0],[16.6,-10.3],[16.5,-5.6],[15.8,-4.55],[16.2,-4.1],[16.9,-3.9],[17.6,-3.4],[18.8,-3.9],[16.6,-3.0],
[16.97,-1.6],[17.6,-1.1],[16.9,0.0],[15.8,0.0],[15.1,-0.3],[14.1,-1.1],[14.5,-2.7],[14.1,-4.2],[14.7,-3.9],[13.65,-4.9],
[13.9,-5.4],[13.2,-2.5],[13.5,-1.6],[12.95,-1.5],[12.3,0.1],[14.2,-0.2],[15.0,1.1],[15.8,1.4],[16.1,2.05],[17.4,1.8],
[18.2,1.1],[19.1,1.7],[18.9,5.3],[15.6,5.4],[15.2,4.3],[15.5,3.55],[15.5,2.6],[14.1,2.6],[13.8,3.3],[13.3,0.7],
[11.3,1.1],[10.7,-0.3],[10.4,-1.1],[10.3,2.3],[9.7,0.6],[9.2,0.45],[8.7,1.3],[8.5,0.1],[7.8,-0.3],[6.8,-0.1],
[5.7,-0.1],[6.0,1.05],[6.35,1.05],[4.9,0.96],[4.0,1.4],[3.96,-0.2],[3.4,0.6],[2.7,1.6],[8.1,2.3],[7.5,2.7],
[7.1,3.6],[6.5,3.8],[5.65,2.6],[4.8,2.4],[4.2,2.05],[3.96,3.8],[3.1,3.3],[3.4,4.6],[4.4,4.7],[4.9,4.9],
[5.5,4.2],[8.1,3.7],[8.5,3.1],[8.7,4.0],[10.4,4.0],[11.3,3.8],[11.6,3.2],[12.1,2.9],[12.7,3.7],[6.4,-9.0],
[4.2,-9.4],[0.03,-7.6],[18.2,-10.2],[19.7,-10.2],[20.7,-9.4],[18.3,-12.05]
];

const ORANGE = [217, 119, 6];
const VIOLET = [124, 58, 237];
const FONT = "'DejaVu Sans', sans-serif";
const plotLefts = [101.6, 1043.9, 1986.7];
const Y_AXIS_W = 100;

const rgba = (c, a) => `rgba(${c[0]},${c[1]},${c[2]},${a})`;
const fmtTick = v => (v < 0 ? '\u2212' + Math.abs(v) : String(v));

// spines on all four sides, drawn over the data like matplotlib
const framePlugin = {
  id: 'frame',
  afterDraw(chart) {
    const { ctx, chartArea: a } = chart;
    ctx.save();
    ctx.strokeStyle = '#222';
    ctx.lineWidth = 1.67;
    ctx.strokeRect(a.left, a.top, a.right - a.left, a.bottom - a.top);
    ctx.restore();
  }
};

function makePanel(i, pts, ticks, color, alpha, radius, bw) {
  const lim = limits[i];
  const canvas = document.getElementById('c' + i);
  canvas.style.left = (plotLefts[i] - Y_AXIS_W) + 'px';
  const t = document.getElementById('t' + i);
  t.textContent = titles[i];
  t.style.left = plotLefts[i] + 'px';

  const axis = (label, isX) => ({
    type: 'linear',
    min: -lim,
    max: lim,
    afterBuildTicks: s => { s.ticks = ticks.map(v => ({ value: v })); },
    afterFit: s => { if (isX) s.height = 66.6; else s.width = Y_AXIS_W; },
    grid: { color: '#ebebeb', lineWidth: 1.6, drawTicks: true, tickLength: 7, tickColor: '#222', tickWidth: 1.67 },
    border: { display: false },
    ticks: { color: '#000', font: { family: FONT, size: 21 }, padding: isX ? 6 : 7, maxRotation: 0, callback: v => fmtTick(v) },
    title: { display: true, text: label, color: '#000', font: { family: FONT, size: 21 },
             padding: isX ? { top: 0, bottom: 0 } : { top: 10, bottom: 0 } }
  });

  const fill = rgba(color, alpha);
  new Chart(canvas, {
    type: 'scatter',
    data: {
      datasets: [
        { data: [{ x: -lim, y: -lim }, { x: lim, y: lim }], showLine: true, borderColor: '#999',
          borderWidth: 1.7, borderDash: [7, 3.5], pointRadius: 0, fill: false, order: 1 },
        { data: pts.map(([x, y]) => ({ x, y })), backgroundColor: fill, borderColor: fill,
          borderWidth: bw, pointRadius: radius, order: 2 },
        { data: [{ x: 0, y: -lim }, { x: 0, y: lim }], showLine: true, borderColor: '#c8c8c8',
          borderWidth: 1.6, pointRadius: 0, fill: false, order: 3 },
        { data: [{ x: -lim, y: 0 }, { x: lim, y: 0 }], showLine: true, borderColor: '#c8c8c8',
          borderWidth: 1.6, pointRadius: 0, fill: false, order: 3 }
      ]
    },
    options: {
      responsive: false,
      animation: false,
      devicePixelRatio: 1,
      layout: { autoPadding: false, padding: { left: 0, right: 10, top: 149, bottom: 12.4 } },
      plugins: { legend: { display: false }, tooltip: { enabled: false }, title: { display: false } },
      scales: { x: axis(xLabels[i], true), y: axis(yLabels[i], false) }
    },
    plugins: [framePlugin]
  });
}

makePanel(0, fineTune, ticksFine, ORANGE, 0.6, 3.6, 1.8);
makePanel(1, meanPooled, ticksWide, VIOLET, 0.6, 3.6, 1.8);
makePanel(2, bothOrient, ticksWide, VIOLET, 0.45, 2.8, 1.5);
</script>
</body>
</html>
